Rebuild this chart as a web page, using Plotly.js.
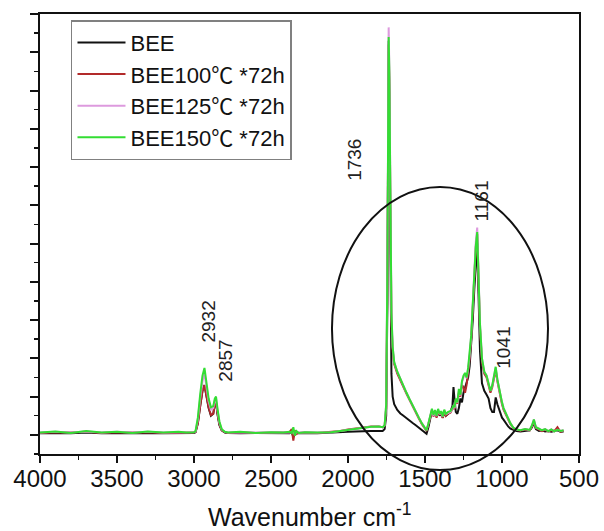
<!DOCTYPE html>
<html>
<head>
<meta charset="utf-8">
<script src="https://cdn.plot.ly/plotly-3.0.1.min.js"></script>
<style>
  html, body { margin: 0; padding: 0; background: #ffffff; }
  #chart { width: 604px; height: 531px; }
</style>
</head>
<body>
<div id="chart"></div>
<script>
// FTIR spectra of BEE before and after thermal ageing (72 h)
const wavenumber = [
  4000, 3900, 3800, 3700, 3600, 3500, 3400, 3300, 3200, 3100,
  3050, 3000, 2990, 2975, 2960, 2945, 2932, 2920, 2905, 2890,
  2875, 2865, 2857, 2848, 2835, 2820, 2800, 2780, 2700, 2600,
  2500, 2420, 2380, 2365, 2355, 2345, 2335, 2320, 2280, 2200,
  2110, 2050, 2000, 1950, 1900, 1850, 1800, 1775, 1762, 1752,
  1744, 1740, 1736, 1732, 1726, 1718, 1710, 1700, 1680, 1660,
  1640, 1620, 1600, 1580, 1560, 1540, 1520, 1500, 1490, 1478,
  1465, 1455, 1445, 1435, 1425, 1415, 1405, 1395, 1385, 1375,
  1365, 1350, 1335, 1322, 1315, 1308, 1300, 1290, 1280, 1270,
  1260, 1250, 1240, 1230, 1220, 1210, 1200, 1190, 1180, 1170,
  1161, 1152, 1143, 1130, 1115, 1100, 1087, 1075, 1063, 1052,
  1041, 1030, 1015, 1000, 990, 975, 960, 945, 925, 905,
  880, 850, 820, 805, 793, 780, 760, 740, 720, 700,
  680, 660, 640, 620, 600
];

const absBEE = [
  0.04, 0.05, 0.04, 0.06, 0.04, 0.05, 0.04, 0.05, 0.04, 0.05,
  0.04, 0.05, 0.07, 0.30, 0.75, 1.15, 1.30, 1.05, 0.70, 0.50,
  0.55, 0.80, 0.85, 0.55, 0.25, 0.12, 0.06, 0.05, 0.04, 0.05,
  0.04, 0.05, 0.04, 0.06, -0.05, 0.02, 0.08, 0.04, 0.05, 0.04,
  0.05, 0.06, 0.08, 0.09, 0.10, 0.10, 0.10, 0.10, 0.15, 0.50,
  3.50, 8.50, 10.30, 9.00, 4.50, 1.60, 1.00, 0.80, 0.65, 0.56,
  0.50, 0.43, 0.37, 0.31, 0.25, 0.19, 0.12, 0.06, 0.03, 0.20,
  0.45, 0.62, 0.50, 0.58, 0.48, 0.62, 0.50, 0.55, 0.45, 0.60,
  0.50, 0.55, 0.60, 0.75, 1.25, 0.90, 0.60, 0.55, 0.70, 0.95,
  0.85, 1.10, 1.25, 1.35, 1.50, 1.80, 2.30, 3.00, 3.80, 4.50,
  5.00, 3.60, 2.20, 1.35, 1.15, 1.05, 0.95, 0.70, 0.60, 0.60,
  0.98, 0.80, 0.60, 0.45, 0.40, 0.30, 0.22, 0.16, 0.12, 0.10,
  0.09, 0.10, 0.12, 0.20, 0.32, 0.15, 0.10, 0.12, 0.09, 0.10,
  0.08, 0.10, 0.12, 0.08, 0.09
];

const absBEE100 = [
  0.05, 0.07, 0.06, 0.08, 0.05, 0.07, 0.06, 0.07, 0.05, 0.06,
  0.05, 0.06, 0.08, 0.30, 0.75, 1.15, 1.30, 1.05, 0.72, 0.52,
  0.55, 0.80, 0.85, 0.58, 0.28, 0.12, 0.07, 0.05, 0.07, 0.05,
  0.06, 0.05, 0.07, 0.15, -0.15, 0.12, 0.02, 0.05, 0.06, 0.05,
  0.07, 0.10, 0.14, 0.17, 0.20, 0.22, 0.22, 0.20, 0.24, 0.70,
  4.20, 9.00, 10.20, 9.30, 5.60, 3.00, 2.20, 1.85, 1.60, 1.40,
  1.25, 1.07, 0.90, 0.73, 0.58, 0.43, 0.28, 0.15, 0.10, 0.28,
  0.50, 0.64, 0.48, 0.60, 0.45, 0.62, 0.52, 0.58, 0.44, 0.60,
  0.50, 0.56, 0.58, 0.66, 0.72, 0.68, 0.90, 0.82, 1.10, 1.00,
  1.30, 1.25, 1.10, 1.30, 1.60, 2.00, 2.50, 3.30, 4.20, 4.90,
  5.25, 4.00, 2.80, 1.90, 1.60, 1.50, 1.30, 1.10, 1.25, 1.50,
  1.70, 1.40, 1.05, 0.80, 0.66, 0.52, 0.40, 0.28, 0.17, 0.13,
  0.11, 0.14, 0.12, 0.22, 0.36, 0.18, 0.14, 0.10, 0.13, 0.09,
  0.12, 0.10, 0.20, 0.08, 0.11
];

const absBEE125 = [
  0.06, 0.08, 0.06, 0.09, 0.06, 0.08, 0.06, 0.08, 0.06, 0.07,
  0.06, 0.07, 0.09, 0.40, 0.95, 1.40, 1.60, 1.30, 0.88, 0.66,
  0.70, 0.90, 0.95, 0.66, 0.32, 0.14, 0.08, 0.06, 0.07, 0.06,
  0.07, 0.06, 0.07, 0.06, 0.10, 0.00, 0.08, 0.06, 0.07, 0.06,
  0.07, 0.10, 0.13, 0.16, 0.19, 0.21, 0.22, 0.20, 0.25, 0.80,
  4.60, 9.50, 10.65, 9.70, 6.00, 3.20, 2.30, 1.90, 1.65, 1.45,
  1.28, 1.10, 0.93, 0.76, 0.60, 0.45, 0.30, 0.16, 0.12, 0.30,
  0.54, 0.66, 0.50, 0.63, 0.49, 0.66, 0.54, 0.60, 0.47, 0.64,
  0.54, 0.58, 0.60, 0.68, 0.76, 0.70, 0.93, 0.84, 1.15, 1.03,
  1.38, 1.50, 1.58, 1.48, 1.72, 2.08, 2.60, 3.40, 4.30, 5.05,
  5.42, 4.20, 2.90, 2.00, 1.65, 1.55, 1.35, 1.15, 1.30, 1.55,
  1.76, 1.44, 1.10, 0.85, 0.70, 0.55, 0.42, 0.30, 0.18, 0.14,
  0.12, 0.15, 0.13, 0.25, 0.40, 0.20, 0.16, 0.12, 0.15, 0.10,
  0.14, 0.09, 0.13, 0.10, 0.12
];

const absBEE150 = [
  0.06, 0.09, 0.05, 0.10, 0.06, 0.08, 0.05, 0.09, 0.06, 0.08,
  0.06, 0.07, 0.10, 0.45, 1.05, 1.55, 1.75, 1.40, 0.95, 0.72,
  0.75, 0.95, 1.00, 0.70, 0.35, 0.15, 0.08, 0.06, 0.08, 0.05,
  0.07, 0.06, 0.08, 0.05, 0.20, -0.02, 0.10, 0.05, 0.07, 0.06,
  0.07, 0.10, 0.13, 0.16, 0.19, 0.21, 0.22, 0.20, 0.25, 0.80,
  4.50, 9.20, 10.40, 9.60, 6.00, 3.20, 2.30, 1.90, 1.65, 1.45,
  1.28, 1.10, 0.93, 0.76, 0.60, 0.45, 0.30, 0.16, 0.12, 0.30,
  0.55, 0.68, 0.52, 0.65, 0.50, 0.68, 0.55, 0.62, 0.48, 0.66,
  0.55, 0.60, 0.62, 0.70, 0.78, 0.72, 0.95, 0.85, 1.20, 1.05,
  1.40, 1.55, 1.62, 1.50, 1.75, 2.10, 2.60, 3.40, 4.30, 4.95,
  5.30, 4.20, 2.90, 2.00, 1.65, 1.55, 1.35, 1.15, 1.30, 1.55,
  1.78, 1.45, 1.10, 0.85, 0.70, 0.55, 0.42, 0.30, 0.18, 0.14,
  0.12, 0.15, 0.13, 0.25, 0.40, 0.20, 0.16, 0.12, 0.15, 0.10,
  0.14, 0.09, 0.13, 0.10, 0.12
];

// the degree-Celsius sign is set in a CJK face so it gets its full-width glyph
const DEG_C = '<span style="font-family:\'Noto Sans CJK SC\'">℃</span>';
const seriesNames = ['BEE', 'BEE100' + DEG_C + ' *72h', 'BEE125' + DEG_C + ' *72h', 'BEE150' + DEG_C + ' *72h'];
const seriesColors = ['#111111', '#b22a2a', '#dd9ade', '#33dd33'];
const seriesValues = [absBEE, absBEE100, absBEE125, absBEE150];

// peak assignments: label text, and where it sits (wavenumber, height)
const peakLabels = ['2932', '2857', '1736', '1161', '1041'];
const peakLabelX = [2912, 2801, 1954, 1132, 995];
const peakLabelY = [2.95, 1.93, 7.19, 6.12, 2.27];

const xTicks = [4000, 3500, 3000, 2500, 2000, 1500, 1000, 500];
const xTitle = 'Wavenumber cm<sup>-1</sup>';

const FONT = 'Liberation Sans, Arial, sans-serif';

const traces = seriesValues.map((vals, i) => ({
  type: 'scatter',
  mode: 'lines',
  x: wavenumber,
  y: vals,
  name: seriesNames[i],
  line: { color: seriesColors[i], width: 2 }
}));

const annotations = peakLabels.map((t, i) => ({
  text: t,
  x: peakLabelX[i],
  y: peakLabelY[i],
  xref: 'x',
  yref: 'y',
  showarrow: false,
  textangle: -90,
  font: { family: FONT, size: 19, color: '#222222' }
}));

// x-axis title, placed under the tick labels
annotations.push({
  text: xTitle,
  xref: 'paper', yref: 'paper',
  x: 0.5, y: -0.138,
  xanchor: 'center', yanchor: 'middle',
  showarrow: false,
  font: { family: FONT, size: 25, color: '#111111' }
});

const layout = {
  width: 604,
  height: 531,
  margin: { l: 40, r: 25, t: 14, b: 77 },
  paper_bgcolor: '#ffffff',
  plot_bgcolor: '#ffffff',
  font: { family: FONT, color: '#111111' },
  showlegend: true,
  legend: {
    x: 0.0575, y: 0.986, xanchor: 'left', yanchor: 'top',
    bordercolor: '#808080', borderwidth: 1.5, bgcolor: '#ffffff',
    font: { family: FONT, size: 22, color: '#111111' },
    itemwidth: 48,
    tracegroupgap: 0
  },
  xaxis: {
    range: [4000, 500],
    tickmode: 'array',
    tickvals: xTicks,
    ticktext: xTicks.map(String),
    ticks: 'outside', ticklen: 7, tickwidth: 2, tickcolor: '#111111',
    ticklabelstandoff: -5,
    minor: { ticks: 'outside', dtick: 250, tick0: 0, ticklen: 4, tickwidth: 1.5, tickcolor: '#111111' },
    tickfont: { family: FONT, size: 24, color: '#111111' },
    showline: true, linewidth: 2, linecolor: '#111111', mirror: true,
    showgrid: false, zeroline: false
  },
  yaxis: {
    range: [-0.5, 11],
    tick0: 0, dtick: 1,
    ticks: 'outside', ticklen: 8, tickwidth: 2, tickcolor: '#111111',
    minor: { ticks: 'outside', dtick: 0.5, tick0: 0, ticklen: 4, tickwidth: 1.5, tickcolor: '#111111' },
    showticklabels: false,
    showline: true, linewidth: 2, linecolor: '#111111', mirror: true,
    showgrid: false, zeroline: false
  },
  shapes: [{
    type: 'circle',
    xref: 'paper', yref: 'paper',
    x0: 0.5417, x1: 0.9425, y0: -0.0364, y1: 0.6068,
    line: { color: '#111111', width: 2 },
    layer: 'above'
  }],
  annotations: annotations
};

Plotly.newPlot('chart', traces, layout, { displayModeBar: false, staticPlot: true });
</script>
</body>
</html>
